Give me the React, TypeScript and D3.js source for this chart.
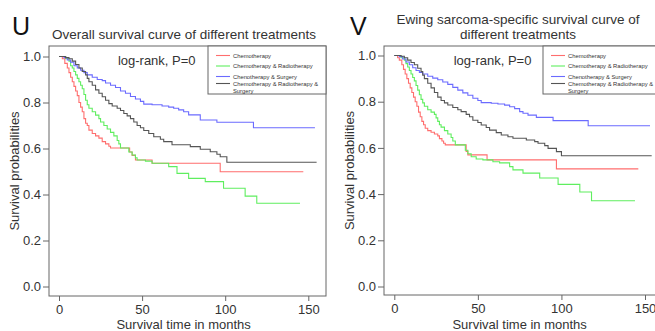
import React, { useEffect, useRef } from 'react';
import * as d3 from 'd3';

// treatment groups and legend labels
const groups = ['Chemotherapy', 'Chemotherapy & Radiotherapy', 'Chenotherapy & Surgery', 'Chemotherapy & Radiotherapy & Surgery'];
const legendLines = [['Chemotherapy'], ['Chemotherapy & Radiotherapy'], ['Chenotherapy & Surgery'], ['Chemotherapy & Radiotherapy &', 'Surgery']];
const colors = ['#ff6e6e', '#5fee5f', '#6b6bff', '#555555'];

const xTicks = [0, 50, 100, 150];
const yTicks = [0, 0.2, 0.4, 0.6, 0.8, 1.0];

// panel U: overall survival  [months, survival]
const uChemo = [[0,1],[2,0.99],[3.5,0.97],[5,0.95],[6,0.93],[7,0.91],[8,0.89],[9,0.87],[10,0.85],[11,0.83],[12,0.8],[13,0.78],[14,0.76],[15,0.73],[16,0.71],[17,0.7],[18,0.68],[20,0.665],[22,0.655],[24,0.645],[26,0.63],[28,0.62],[30,0.61],[31,0.602],[42.5,0.585],[44,0.57],[46,0.55],[56,0.536],[97,0.499],[147,0.499]];
const uChemoRadio = [[0,1],[4,0.99],[6,0.98],[7,0.96],[8,0.95],[9,0.935],[10,0.92],[11,0.905],[12,0.89],[13,0.875],[14,0.86],[15,0.835],[16,0.81],[17,0.79],[18,0.775],[20,0.76],[22,0.745],[24,0.73],[25,0.715],[27,0.7],[29,0.685],[31,0.67],[33,0.655],[35,0.635],[36,0.62],[37,0.602],[42,0.585],[44,0.572],[46,0.56],[47,0.55],[52,0.545],[56,0.536],[66,0.521],[71,0.492],[78,0.47],[88,0.456],[99,0.427],[112,0.393],[119,0.362],[145,0.362]];
const uChemoSurg = [[0,1],[3,0.995],[5,0.985],[7,0.975],[9,0.96],[11,0.95],[13,0.94],[15,0.93],[17,0.92],[20,0.91],[23,0.9],[26,0.895],[28,0.885],[31,0.875],[34,0.865],[37,0.85],[40,0.84],[43,0.826],[46,0.815],[49,0.805],[51,0.793],[56,0.79],[62,0.785],[66,0.78],[69,0.775],[72,0.768],[75,0.76],[78,0.746],[85,0.724],[95,0.714],[117,0.69],[154,0.69]];
const uAll = [[0,1],[4,0.995],[6,0.99],[8,0.98],[10,0.965],[12,0.95],[14,0.935],[16,0.92],[17,0.905],[18,0.89],[20,0.875],[22,0.855],[24,0.84],[26,0.825],[28,0.81],[30,0.795],[32,0.785],[35,0.775],[37,0.765],[39,0.752],[41,0.742],[43,0.73],[45,0.715],[47,0.7],[49,0.69],[51,0.678],[54,0.665],[57,0.651],[61,0.64],[63,0.63],[68,0.616],[79,0.608],[85,0.597],[91,0.586],[95,0.575],[97,0.564],[101,0.54],[155,0.54]];

// panel V: Ewing sarcoma-specific survival
const vChemo = [[0,1],[2,0.99],[3,0.98],[4.5,0.96],[5.5,0.94],[6.5,0.92],[7.5,0.9],[8.5,0.88],[9.5,0.86],[10.5,0.84],[11.5,0.82],[12.5,0.8],[13.5,0.78],[14.5,0.755],[15.5,0.735],[16.5,0.715],[17.5,0.7],[18.5,0.685],[20,0.675],[22,0.668],[24,0.66],[26,0.652],[27,0.64],[28.5,0.63],[29.5,0.62],[30.5,0.613],[43,0.585],[44,0.57],[55.5,0.548],[97,0.509],[146,0.509]];
const vChemoRadio = [[0,1],[4,0.99],[6,0.98],[7,0.965],[8,0.95],[9,0.935],[10,0.92],[11,0.905],[12,0.89],[13,0.87],[14,0.85],[15,0.83],[16,0.81],[17,0.795],[18,0.78],[20,0.765],[22,0.755],[24,0.745],[25,0.73],[26,0.715],[27,0.7],[28,0.69],[30,0.675],[32,0.66],[34,0.645],[35,0.63],[36.5,0.613],[42.5,0.59],[44,0.575],[46,0.562],[49,0.552],[53,0.548],[59,0.54],[63,0.535],[69,0.519],[71,0.505],[77,0.491],[87,0.47],[98,0.442],[111,0.409],[118,0.371],[144,0.371]];
const vChemoSurg = [[0,1],[3,0.995],[5,0.985],[7,0.972],[9,0.96],[11,0.947],[13,0.935],[15,0.927],[17,0.92],[20,0.91],[23,0.902],[26,0.895],[29,0.885],[32,0.875],[35,0.862],[38,0.85],[41,0.838],[44,0.828],[47,0.815],[50,0.805],[52,0.796],[58,0.793],[62,0.79],[66,0.785],[69,0.778],[72,0.77],[75,0.757],[77,0.75],[80,0.742],[85,0.732],[95,0.718],[116,0.696],[153,0.696]];
const vAll = [[0,1],[4,0.997],[6,0.99],[8,0.98],[10,0.97],[12,0.96],[14,0.945],[16,0.93],[17,0.915],[18,0.9],[20,0.88],[22,0.86],[24,0.84],[26,0.82],[28,0.805],[30,0.795],[32,0.786],[35,0.775],[38,0.765],[40,0.757],[43,0.745],[45,0.735],[47,0.72],[50,0.71],[52,0.699],[55,0.688],[57,0.677],[61,0.666],[64,0.656],[68,0.648],[71,0.642],[79,0.634],[84,0.627],[86,0.62],[90,0.61],[92,0.598],[97,0.584],[100,0.566],[154,0.566]];

const FONT = '"Liberation Sans", Arial, Helvetica, sans-serif';
const TEXT = '#333';
const FRAME = '#666';

const panels = [
  {
    letter: 'U', letterX: 12,
    title: ['Overall survival curve of different treatments'], titleX: 184, titleY: [39],
    box: { left: 49, top: 46, right: 326, bottom: 296 },
    xRange: [59, 308.3], yRange: [286.5, 56.5],
    legend: { left: 208, right: 326, bottom: 94 },
    series: [uChemo, uChemoRadio, uChemoSurg, uAll],
  },
  {
    letter: 'V', letterX: 350,
    title: ['Ewing sarcoma-specific survival curve of', 'different treatments'], titleX: 518, titleY: [24, 39],
    box: { left: 384, top: 46, right: 680, bottom: 295 },
    xRange: [394.3, 645], yRange: [286.5, 55.5],
    legend: { left: 543, right: 680, bottom: 94 },
    series: [vChemo, vChemoRadio, vChemoSurg, vAll],
  },
];

function drawPanel(svg, p) {
  const g = svg.append('g');
  const x = d3.scaleLinear().domain([0, 150]).range(p.xRange);
  const y = d3.scaleLinear().domain([0, 1]).range(p.yRange);
  const b = p.box;

  // panel letter
  g.append('text').attr('x', p.letterX).attr('y', 35)
    .style('font-family', FONT).style('font-size', '25px').attr('fill', '#111')
    .text(p.letter);

  // title
  p.title.forEach((t, i) => {
    g.append('text').attr('x', p.titleX).attr('y', p.titleY[i])
      .attr('text-anchor', 'middle')
      .style('font-family', FONT).style('font-size', '13.5px').attr('fill', TEXT)
      .text(t);
  });

  // frame
  g.append('rect').attr('x', b.left).attr('y', b.top)
    .attr('width', b.right - b.left).attr('height', b.bottom - b.top)
    .attr('fill', 'none').attr('stroke', FRAME).attr('stroke-width', 1);

  // y axis
  const yAxis = g.append('g').attr('transform', `translate(${b.left},0)`)
    .call(d3.axisLeft(y).tickValues(yTicks).tickFormat(d3.format('.1f')).tickSize(6).tickPadding(2));
  yAxis.select('.domain').remove();
  yAxis.selectAll('line').attr('stroke', FRAME);
  yAxis.selectAll('text').style('font-family', FONT).style('font-size', '13px').attr('fill', TEXT);

  // x axis
  const xAxis = g.append('g').attr('transform', `translate(0,${b.bottom})`)
    .call(d3.axisBottom(x).tickValues(xTicks).tickSize(5).tickPadding(4));
  xAxis.select('.domain').remove();
  xAxis.selectAll('line').attr('stroke', FRAME);
  xAxis.selectAll('text').style('font-family', FONT).style('font-size', '13px').attr('fill', TEXT);

  // axis titles
  g.append('text').attr('x', (p.xRange[0] + p.xRange[1]) / 2).attr('y', 329)
    .attr('text-anchor', 'middle')
    .style('font-family', FONT).style('font-size', '13px').attr('fill', TEXT)
    .text('Survival time in months');
  g.append('text')
    .attr('transform', `translate(${b.left - 30},${(b.top + b.bottom) / 2}) rotate(-90)`)
    .attr('text-anchor', 'middle')
    .style('font-family', FONT).style('font-size', '13px').attr('fill', TEXT)
    .text('Survival probabilities');

  // curves
  const line = d3.line().x(d => x(d[0])).y(d => y(d[1])).curve(d3.curveStepAfter);
  p.series.forEach((s, i) => {
    g.append('path').datum(s).attr('d', line)
      .attr('fill', 'none').attr('stroke', colors[i]).attr('stroke-width', 1.1);
  });

  // log-rank note
  g.append('text').attr('x', x(60) - 2).attr('y', 65)
    .attr('text-anchor', 'middle')
    .style('font-family', FONT).style('font-size', '13px').attr('fill', TEXT)
    .text('log-rank, P=0');

  // legend
  const lg = p.legend;
  g.append('rect').attr('x', lg.left).attr('y', b.top)
    .attr('width', lg.right - lg.left).attr('height', lg.bottom - b.top)
    .attr('fill', 'white').attr('stroke', FRAME).attr('stroke-width', 1);
  const rowY = [55.5, 66, 76.5, 83.5];
  groups.forEach((grp, i) => {
    g.append('line').attr('x1', lg.left + 8).attr('x2', lg.left + 22)
      .attr('y1', rowY[i]).attr('y2', rowY[i])
      .attr('stroke', colors[i]).attr('stroke-width', 1.1);
    legendLines[i].forEach((t, j) => {
      g.append('text').attr('x', lg.left + 25).attr('y', rowY[i] + 2 + j * 7.5)
        .style('font-family', FONT).style('font-size', '5.8px').attr('fill', TEXT)
        .text(t);
    });
  });
}

export default function App() {
  const ref = useRef(null);

  useEffect(() => {
    const svg = d3.select(ref.current);
    svg.selectAll('*').remove();
    svg.append('rect').attr('width', 655).attr('height', 331).attr('fill', 'white');
    panels.forEach(p => drawPanel(svg, p));
  }, []);

  return (
    <svg ref={ref} width={655} height={331}
      style={{ position: 'absolute', left: 0, top: 0, background: 'white' }} />
  );
}
